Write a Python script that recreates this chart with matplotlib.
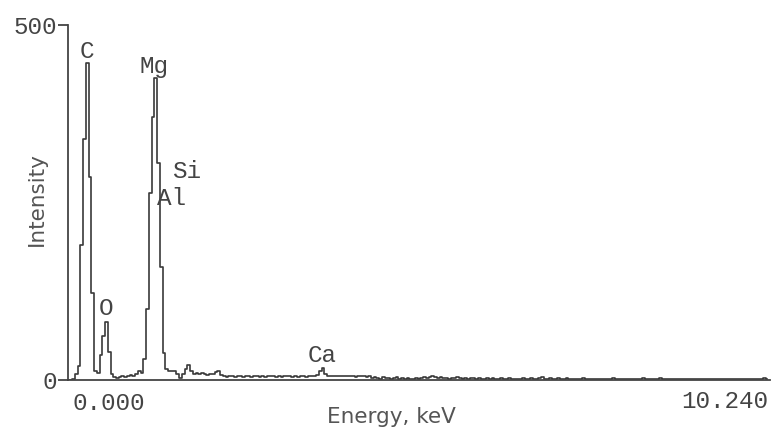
import numpy as np
import matplotlib
matplotlib.use("Agg")
import matplotlib.pyplot as plt

# ---- data ----
channel_width_kev = 0.04
counts = [
    0, 0, 1, 8, 20,
    190, 340, 446, 286, 122, 12,
    10, 35, 62, 82, 40, 8, 4,
    3, 4, 5, 4, 6, 7, 6, 8, 12, 10,
    30, 100, 263, 371, 425, 305, 159, 38, 15,
    12, 13, 12, 9, 3, 9, 15, 21, 12,
    9, 10, 8, 10, 9, 7, 9, 8, 11, 12,
    7, 5, 4, 6, 5, 4, 5, 6, 4, 5, 5, 4, 6, 5, 4, 5, 4, 5, 6, 5, 4, 5, 4, 5, 5, 6, 4, 5, 4, 5, 5, 4, 6, 5, 5, 7,
    12, 17, 8,
    6, 5, 6, 5, 6, 5, 5, 6, 5, 6, 4, 5, 6, 5, 4, 5,
    3, 4, 3, 2, 4, 3, 3, 2, 3, 4, 2, 3, 2, 3, 2, 2, 3, 2, 3, 4, 3, 4, 5, 4, 3, 4, 3, 3, 2, 3,
    3, 4, 3, 2, 3, 2, 3, 3, 2, 3, 2, 2, 3, 2, 3, 2, 2, 3, 2, 2, 3, 2, 1, 2, 2, 3, 2, 2, 3, 2,
    2, 3, 4, 2, 2, 3, 2, 2, 3, 1, 2, 3, 2, 2, 1, 2, 2, 3, 2, 2, 2, 1, 2, 2, 2, 1, 2, 2, 3, 2,
    2, 1, 2, 2, 2, 1, 1, 2, 2, 3, 2, 2, 1, 2, 2, 3, 1, 2, 2, 2, 1, 2, 2, 1, 2, 2, 2, 1, 1, 2,
    2, 1, 2, 2, 2, 1, 2, 1, 2, 2, 1, 2, 2, 1, 2, 2, 1, 2, 1, 2, 2, 1, 2, 3, 2,
]
energy = np.arange(len(counts)) * channel_width_kev

element_names = ["C", "O", "Mg", "Si", "Al", "Ca"]
element_x = [0.277, 0.554, 1.255, 1.736, 1.517, 3.705]   # keV
element_y = [453, 91, 432, 284, 246, 25]                  # intensity (label baseline)

y_ticks = [0, 500]
x_range_labels = ["0.000", "10.240"]
x_label = "Energy, keV"
y_label = "Intensity"

# ---- figure ----
W, H = 774, 436
fig = plt.figure(figsize=(W / 100, H / 100), dpi=100)
ax = fig.add_axes([68 / W, 56 / H, 702 / W, 355 / H])

line_c = "#3a3a3a"
text_c = "#444444"
mono = "Liberation Mono"
sans = "DejaVu Sans"

ax.plot(energy, counts, drawstyle="steps-mid", color=line_c, lw=1.2)

ax.set_xlim(0, 10.24)
ax.set_ylim(0, 500)

for s in ["top", "right"]:
    ax.spines[s].set_visible(False)
for s in ["left", "bottom"]:
    ax.spines[s].set_color("#444444")
    ax.spines[s].set_linewidth(1.3)

ax.set_xticks([])
ax.set_yticks(y_ticks)
ax.set_yticklabels([str(v) for v in y_ticks], fontfamily=mono, fontsize=17.5, color=text_c)
ax.tick_params(axis="y", direction="out", length=7.2, width=1.3, color="#444444", pad=1)

for name, xv, yv in zip(element_names, element_x, element_y):
    ax.text(xv, yv, name, ha="center", va="baseline", fontfamily=mono,
            fontsize=17.5, color=text_c)

ax.text((108.5 - 68) / 702, -30 / 355, x_range_labels[0], transform=ax.transAxes,
        ha="center", va="baseline", fontfamily=mono, fontsize=17.5, color=text_c)
ax.text((725 - 68) / 702, -28 / 355, x_range_labels[1], transform=ax.transAxes,
        ha="center", va="baseline", fontfamily=mono, fontsize=17.5, color=text_c)

ax.text((391 - 68) / 702, -43 / 355, x_label, transform=ax.transAxes,
        ha="center", va="baseline", fontfamily=sans, fontsize=15.5, color="#555555")
ax.text((37 - 68) / 702, (380 - 199) / 355, y_label, transform=ax.transAxes,
        ha="center", va="center", rotation=90, fontfamily=sans, fontsize=15.5, color="#555555")

fig.savefig("out.png", dpi=100)
